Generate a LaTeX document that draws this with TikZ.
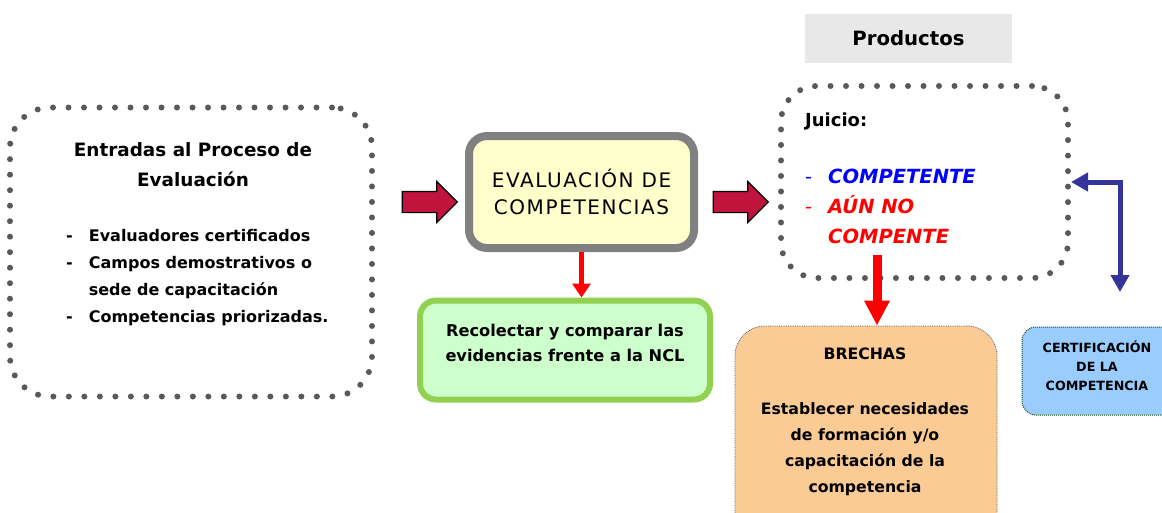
\documentclass[tikz,border=0pt]{standalone}
\usepackage{fontspec}
\setmainfont{DejaVu Sans}
\usetikzlibrary{positioning,shapes.arrows,arrows.meta}
\definecolor{dotgray}{HTML}{595959}
\definecolor{crimson}{HTML}{C0143C}
\definecolor{boxgray}{HTML}{808080}
\definecolor{paleyellow}{HTML}{FFFFCC}
\definecolor{leafgreen}{HTML}{92D050}
\definecolor{palegreen}{HTML}{CCFFCC}
\definecolor{lightgray}{HTML}{E8E8E8}
\definecolor{peach}{HTML}{FBCB96}
\definecolor{skyblue}{HTML}{99CCFF}
\definecolor{navy}{HTML}{333399}
\definecolor{darkgreen}{HTML}{1F4E1F}
\begin{document}
\begin{tikzpicture}[x=1pt, y=-1pt,
  dotbox/.style={draw=dotgray, line width=6pt, dash pattern=on 0pt off 15.5pt, line cap=round, rounded corners=40pt, inner sep=0pt},
  fat/.style={single arrow, draw=black, line width=1.2pt, fill=crimson, minimum height=55pt, minimum width=40pt, single arrow head extend=10pt, inner xsep=0pt, inner ysep=10pt},
  txt/.style={font=\bfseries\fontsize{16}{27}\selectfont, align=center, inner sep=0pt},
  redline/.style={draw=red, line width=5pt, -{Triangle[width=18pt,length=14pt]}}]

  % frame
  \useasboundingbox (0,0) rectangle (1162,512);
  \clip (0,0) rectangle (1162,512);

  % Inputs
  \node[dotbox, minimum width=362pt, minimum height=289pt] (E) at (191,252) {};
  \node[txt, font=\bfseries\fontsize{18.4}{30}\selectfont] (E1) at (193,165) {Entradas al Proceso de\\Evaluación};
  \node[txt, anchor=west] (E2) at (66,277) {\begin{tabular}{@{}l@{\hspace{16pt}}l@{}}
    - & Evaluadores certificados\\
    - & Campos demostrativos o\\
      & sede de capacitación\\
    - & Competencias priorizadas.
  \end{tabular}};

  % Evaluation
  \node[draw=boxgray, line width=8pt, fill=paleyellow, rounded corners=18pt,
        minimum width=225pt, minimum height=112pt, txt, font=\fontsize{20}{27}\selectfont\addfontfeature{LetterSpace=8}] (C) at (581.5,192) {EVALUACIÓN DE\\COMPETENCIAS};

  % Evidence
  \node[draw=leafgreen, line width=6pt, fill=palegreen, rounded corners=16pt,
        minimum width=290pt, minimum height=99pt] (G) at (565,350) {};
  \node[txt, font=\bfseries\fontsize{16.2}{25}\selectfont] (G1) at (565,342.5) {Recolectar y comparar las\\evidencias frente a la NCL};

  % Products
  \node[fill=lightgray, minimum width=207pt, minimum height=49pt, txt, font=\bfseries\fontsize{19.7}{24}\selectfont] (P) at (908.5,38.5) {Productos};
  \node[dotbox, minimum width=287pt, minimum height=192pt, rounded corners=36pt] (J) at (924.5,182) {};
  \node[txt, anchor=west, font=\bfseries\fontsize{18}{24}\selectfont] (J1) at (805,121) {Juicio:};
  \node[txt, anchor=west, font=\bfseries\itshape\fontsize{19.5}{30}\selectfont] (J2) at (805,207) {\begin{tabular}{@{}l@{\hspace{16pt}}l@{}}
    \textcolor{blue}{\mdseries\upshape -} & \textcolor{blue}{COMPETENTE}\\
    \textcolor{red}{\mdseries\upshape -} & \textcolor{red}{AÚN NO}\\
      & \textcolor{red}{COMPENTE}
  \end{tabular}};

  % Gaps
  \node[fill=peach, draw=dotgray, densely dotted, line width=0.8pt, rounded corners=30pt,
        minimum width=262pt, minimum height=220pt] (B) at (866,436) {};
  \node[txt, font=\bfseries\fontsize{15.7}{26}\selectfont] (B1) at (865,421.5) {BRECHAS\\[29pt]Establecer necesidades\\de formación y/o\\capacitación de la\\competencia};

  % Certification
  \node[fill=skyblue, draw=darkgreen, densely dotted, line width=1pt, rounded corners=14pt,
        minimum width=180pt, minimum height=88pt] (K) at (1112,371) {};
  \node[txt, font=\bfseries\fontsize{12.7}{19}\selectfont] (K1) at (1097,365.5) {CERTIFICACIÓN\\DE LA\\COMPETENCIA};

  % Block arrows
  \node[fat] (A1) at (424.5,202) {};
  \node[fat] (A2) at (735.5,202) {};

  % Red arrows
  \draw[redline] (C.south) -- (C.south |- G.north);
  \coordinate (J3) at (877,255);
  \draw[draw=red, line width=9pt, -{Triangle[width=24pt,length=25pt]}] (J3) -- (J3 |- B.north);

  % Blue elbow
  \coordinate (K2) at (1120,292);
  \draw[draw=navy, line width=5pt, {Triangle[width=18pt,length=17pt]}-{Triangle[width=18pt,length=17pt]}] (J.east) -| (K2);

\end{tikzpicture}
\end{document}
